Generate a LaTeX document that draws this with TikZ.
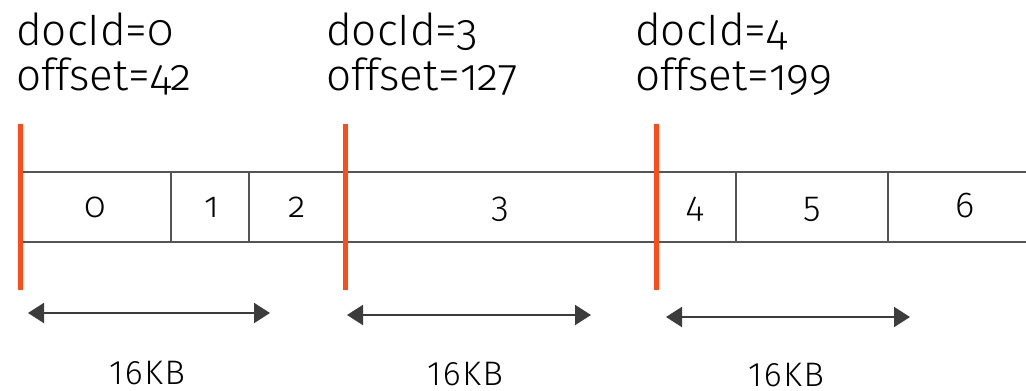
\documentclass[tikz,border=0pt]{standalone}
\usepackage{fontspec}
\setmainfont{Fira Sans Light}[Numbers=OldStyle]
\newfontfamily\sizefont{Fira Sans Light}[Numbers=Lining, LetterSpace=5]
\usetikzlibrary{arrows.meta}
\definecolor{cut}{HTML}{FF4A1A}
\definecolor{edge}{HTML}{555555}
\tikzset{
  head/.style={anchor=base west, inner sep=0pt, font=\fontsize{44}{50}\selectfont},
  cell/.style={inner sep=0pt, outer sep=0pt, minimum height=70pt, anchor=north west},
  rowline/.style={draw=edge, line width=1.3pt},
  num/.style={anchor=base, inner sep=0pt, font=\fontsize{36}{40}\selectfont},
  cutline/.style={draw=cut, line width=5pt},
  span/.style={draw=edge!70!black, line width=2pt,
    {Triangle[width=20pt,length=16pt]}-{Triangle[width=20pt,length=16pt]}},
  size/.style={anchor=base, inner sep=0pt, font=\sizefont\fontsize{34}{38}\selectfont}
}
\begin{document}
\begin{tikzpicture}[x=1pt,y=-1pt]
\useasboundingbox (0,0) rectangle (1026,391);

% block row
\node[cell, minimum width=151pt] (c0) at (20,172) {};
\node[cell, minimum width=78pt] (c1) at (c0.north east) {};
\node[cell, minimum width=96pt] (c2) at (c1.north east) {};
\node[cell, minimum width=310pt] (c3) at (c2.north east) {};
\node[cell, minimum width=81pt] (c4) at (c3.north east) {};
\node[cell, minimum width=152pt] (c5) at (c4.north east) {};
\coordinate (c6t) at (1030,172);
\coordinate (c6b) at (1030,242);
\draw[rowline] (c0.north west) -- (c6t);
\draw[rowline] (c0.south west) -- (c6b);
\foreach \c in {c0,c1,c2,c3,c4,c5}
  \draw[rowline] (\c.north east) -- (\c.south east);

% block numbers
\node[num] (n0) at (95,217) {0};
\node[num] (n1) at (212,217) {1};
\node[num] (n2) at (297,217) {2};
\node[num] (n3) at (500,217) {3};
\node[num] (n4) at (695,217) {4};
\node[num] (n5) at (812,217) {5};
\node[num] (n6) at (965,217) {6};

% chunk boundaries
\coordinate (r0t) at (20,124);  \coordinate (r0b) at (20,290);
\coordinate (r1t) at (345,124); \coordinate (r1b) at (345,290);
\coordinate (r2t) at (656,124); \coordinate (r2b) at (656,290);
\draw[cutline] (r0t) -- (r0b);
\draw[cutline] (r1t) -- (r1b);
\draw[cutline] (r2t) -- (r2b);

% chunk headers
\node[head] (d0) at (16,45) {docId=0};
\node[head] (o0) at (16,90) {offset=42};
\node[head] (d1) at (326,45) {docId=3};
\node[head] (o1) at (326,90) {offset=127};
\node[head] (d2) at (635,45) {docId=4};
\node[head] (o2) at (635,90) {offset=199};

% chunk sizes
\coordinate (a0l) at (28,313);  \coordinate (a0r) at (270,313);
\coordinate (a1l) at (347,315); \coordinate (a1r) at (591,315);
\coordinate (a2l) at (666,317); \coordinate (a2r) at (910,317);
\draw[span] (a0l) -- (a0r);
\draw[span] (a1l) -- (a1r);
\draw[span] (a2l) -- (a2r);
\node[size] (s0) at (147,384) {16KB};
\node[size] (s1) at (465,385) {16KB};
\node[size] (s2) at (786,386) {16KB};
\end{tikzpicture}
\end{document}
